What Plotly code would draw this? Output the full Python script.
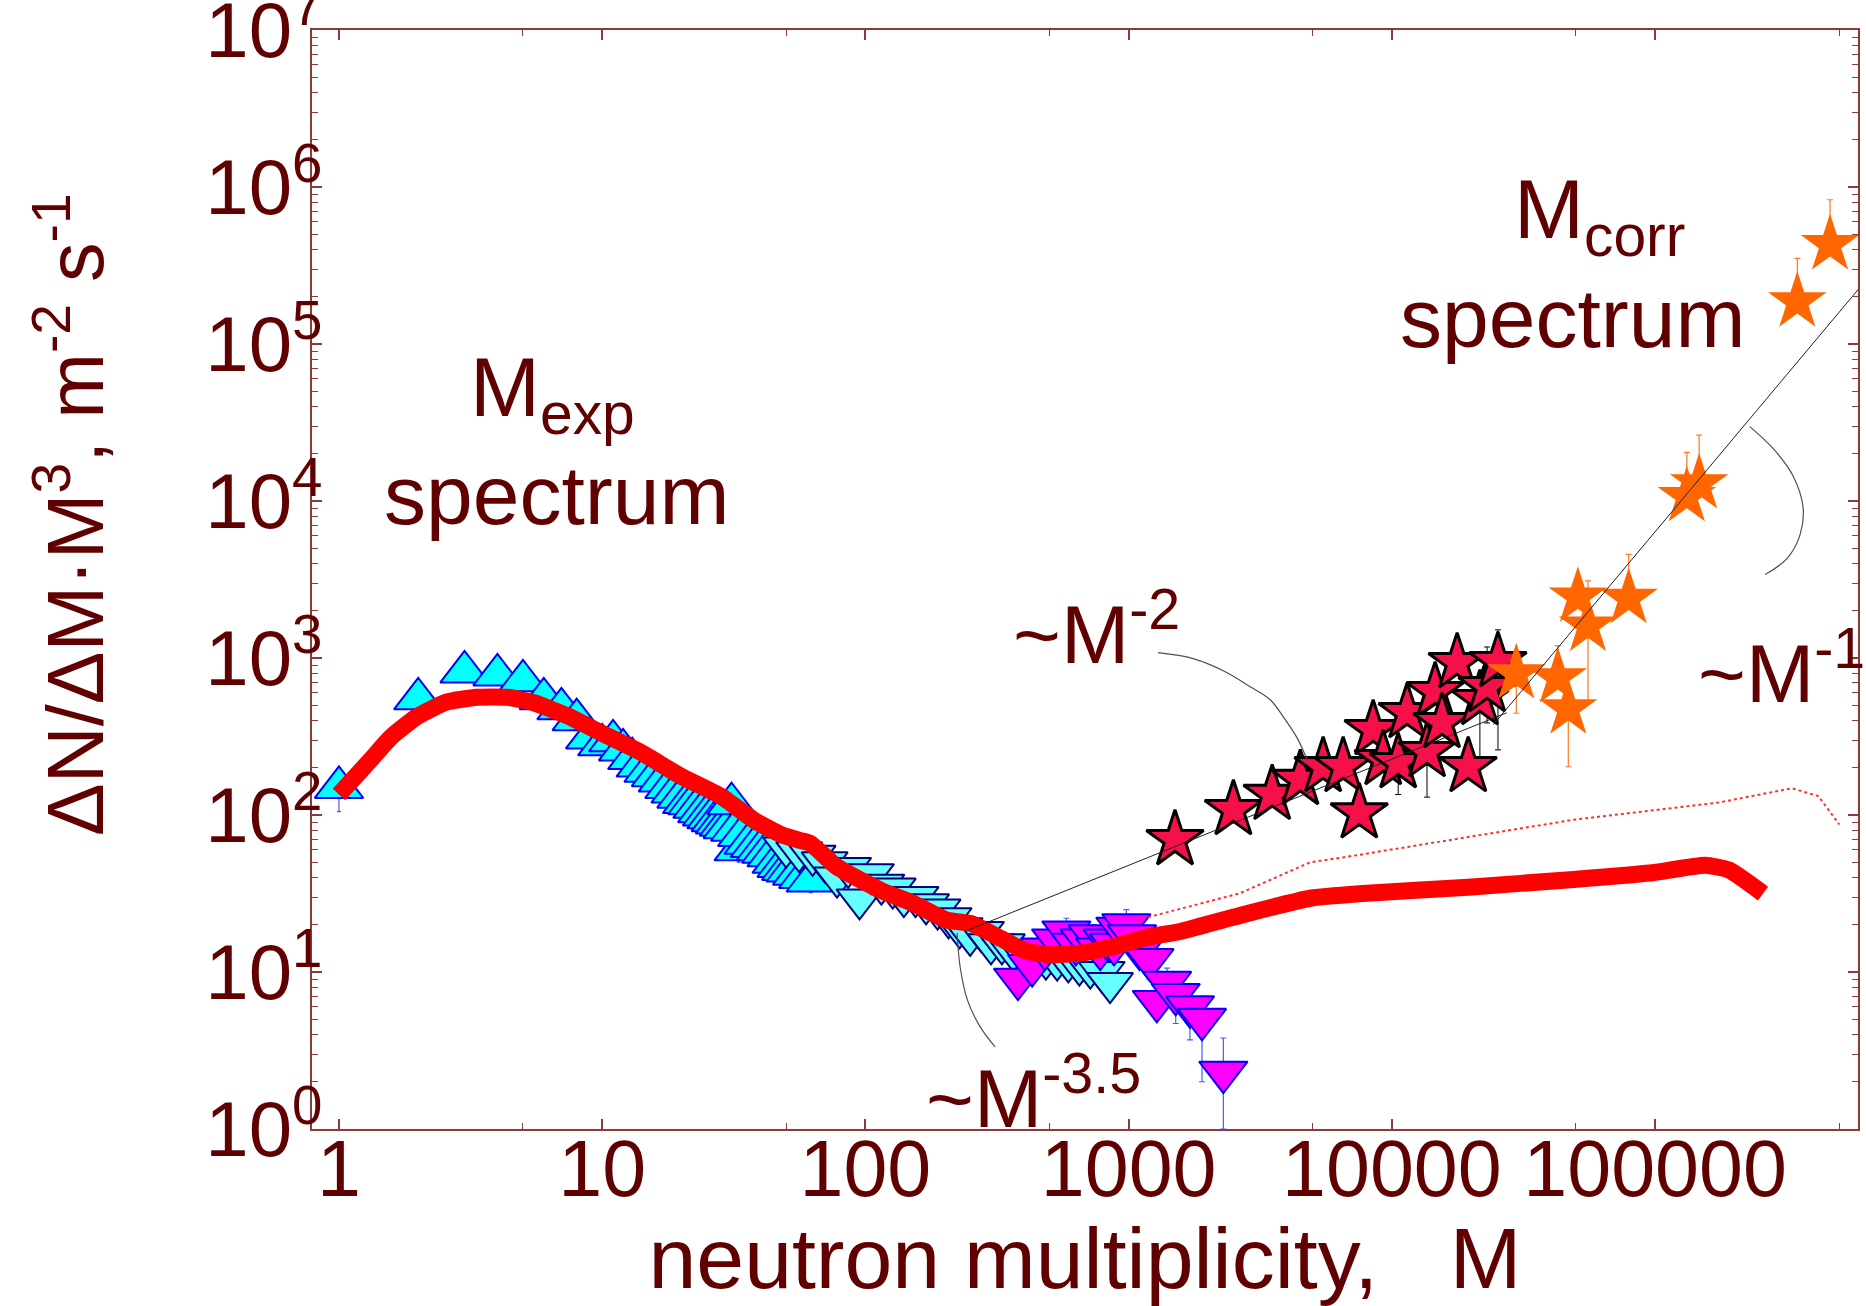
import math
import plotly.graph_objects as go

# ---------------- data ----------------
# M_exp spectrum, up triangles
up_M = [1, 2, 3, 4, 5, 6, 7, 8, 9, 10, 11, 12, 13, 14, 15, 16, 17, 18, 19, 20,
        21, 22, 23, 24, 25, 26, 27, 28, 29, 30, 31, 32, 33, 34, 36, 38, 40, 42,
        44, 46, 48, 50, 52, 55, 58, 62]
up_V = [150, 550, 815, 780, 716, 550, 475, 405, 310, 280, 297, 260, 229, 205, 190,
        178, 165, 150, 140, 130, 120, 118, 112, 105, 100, 96, 92, 89, 86, 83, 118,
        80, 60, 74, 66, 63, 60, 58, 55, 50, 47, 45, 44, 42, 40, 38]
up_err = [45, 30, 30, 30, 25, 20, 20, 18, 15, 14, 14, 12, 12, 10, 10, 10, 9, 9, 8,
          8, 8, 8, 7, 7, 7, 7, 6, 6, 6, 6, 8, 6, 10, 6, 6, 6, 6, 6, 6, 6, 6, 6, 6,
          6, 6, 6]

# M_exp spectrum, down triangles (cyan)
dn_M = [50, 56, 63, 70, 78, 86, 95, 105, 115, 127, 140, 155, 170, 188, 207, 228,
        250, 275, 300, 330, 365, 400, 440, 485, 535, 590, 650, 715, 790, 850]
dn_V = [62, 58, 55, 50, 40, 46, 29, 42, 36, 34, 30, 30, 27, 25, 22, 19, 17, 18,
        15, 15, 13.5, 13, 12.5, 12, 11.8, 11.5, 11, 10.5, 10, 8.5]
dn_err = [9, 8, 8, 7, 6, 7, 6, 6, 5, 5, 4, 4, 4, 4, 3, 3, 3, 3, 2, 2, 2, 2, 2,
          2, 2, 2, 2, 2, 2, 2]

# M_exp spectrum, down triangles (magenta)
mg_M = [380, 430, 480, 530, 580, 630, 680, 730, 780, 830, 880, 930, 980, 1030,
        1100, 1200, 1280, 1400, 1510, 1710, 1900, 2290]
mg_V = [9, 11, 14, 16, 18, 15, 16, 17, 14, 16, 15, 19, 20, 17, 14, 12, 6.5, 8.6,
        7.2, 6.0, 5.0, 2.3]
mg_err_plus = [2, 2, 2, 3, 4, 2, 2, 3, 2, 2, 2, 4, 5, 3, 3, 3, 1.5, 2, 2, 1.6,
               1.5, 1.5]
mg_err_minus = [2, 2, 2, 3, 3, 2, 2, 3, 2, 2, 2, 3, 3, 3, 3, 3, 1.5, 2.5, 2.5,
                2.3, 3.0, 1.3]

# M_corr spectrum, crimson stars
cr_M = [1500, 2500, 3510, 4490, 5480, 6530, 7520, 8490, 9270, 10570, 11430, 13600,
        14600, 15500, 17700, 19500, 21600, 23000, 25300]
cr_V = [69.5, 108, 135, 168, 203, 203, 103, 349, 225, 215, 448, 253, 610, 387,
        933, 203, 542, 656, 947]
cr_err_plus = [8, 12, 15, 18, 20, 20, 12, 40, 25, 25, 60, 30, 70, 45, 150, 25,
               100, 520, 565]
cr_err_minus = [12, 18, 22, 28, 30, 30, 18, 50, 35, 80, 60, 123, 90, 60, 150, 30,
                340, 270, 687]

# M_corr spectrum, orange stars
or_M = [29700, 42700, 46800, 50900, 55600, 79400, 132000, 147000, 347000, 462000]
or_V = [795, 750, 475, 2450, 1600, 2400, 10700, 12900, 186000, 430000]
or_err_plus = [80, 450, 60, 650, 1500, 2170, 9700, 13400, 165000, 400000]
or_err_minus = [350, 100, 272, 300, 1070, 300, 1500, 2000, 20000, 50000]

# thick red curve
red_M = [1, 1.318, 1.585, 1.995, 2.57, 3.35, 4.37, 5.5, 7.41, 10, 14, 20, 28.2,
         37.6, 47.9, 56.2, 61.7, 77.6, 115, 151, 204, 251, 309, 398, 490, 653,
         871, 1175, 1585, 2512, 4900, 7760, 19500, 49000, 95500, 155000, 190500,
         257000]
red_V = [135, 224, 316, 427, 525, 562, 562, 519, 427, 331, 251, 176, 132, 93, 75,
         69, 66, 47, 33, 27.5, 21.4, 20.4, 17.2, 13.8, 12.9, 13.2, 14.5, 16.6, 18.2,
         22.4, 29.5, 31.6, 34.7, 38.9, 42.7, 47.9, 44.7, 31.6]

# thin dotted red curve
dot_M = [1072, 2630, 4900, 6530, 19500, 49000, 174000, 331000, 417000, 501000]
dot_V = [21.4, 31.6, 50, 53.7, 72.4, 93.3, 120, 148, 132, 87]

# power-law guide lines
fit1_M = [240, 27300]
fit1_V = [18.2, 448]
fit2_M = [24300, 620000]
fit2_V = [376, 245000]

# curved connectors of the power-law labels
arc2_M = [1294, 1758, 2328, 2897, 3451, 3864, 4365, 4764]
arc2_V = [1081, 991, 818, 656, 542, 423, 310, 225]
arc35_M = [223, 229, 244, 273, 311]
arc35_V = [17.7, 10.8, 6.64, 4.47, 3.33]
arc1_M = [229000, 280000, 334000, 365000, 355000, 317000, 262000]
arc1_V = [29800, 21700, 14500, 9080, 6070, 4300, 3400]

# axes
x_tickvals = [1, 10, 100, 1000, 10000, 100000]
x_ticktext = ["1", "10", "100", "1000", "10000", "100000"]
x_minor = [5, 50, 500, 5000, 50000, 500000]
y_tickvals = [1, 10, 100, 1000, 10000, 100000, 1000000, 10000000]
y_ticktext = ["10<sup>%d</sup>" % k for k in range(8)]
y_minor = [k * 10 ** n for n in range(7) for k in range(2, 10)]

# ---------------- figure ----------------
W, H = 1866, 1306
ML, MR, MT, MB = 312, 8, 30, 177
PW, PH = W - ML - MR, H - MT - MB

DARK = "#600000"
AXC = "#8b3a3a"
FONT = "Liberation Sans, Arial, sans-serif"


def px_x(p):
    return (p - ML) / PW


def px_y(p):
    return (MT + PH - p) / PH


fig = go.Figure()

fig.add_trace(go.Scatter(
    x=up_M, y=up_V, mode="markers",
    marker=dict(symbol="triangle-up", size=42, color="#00ffff",
                line=dict(color="#0000ff", width=2)),
    error_y=dict(type="data", array=up_err, color="#3030ff", thickness=1, width=2)))

fig.add_trace(go.Scatter(
    x=dn_M, y=dn_V, mode="markers",
    marker=dict(symbol="triangle-down", size=40, color="#66ffff",
                line=dict(color="#000080", width=2)),
    error_y=dict(type="data", array=dn_err, color="#000080", thickness=1, width=2)))

fig.add_trace(go.Scatter(
    x=mg_M, y=mg_V, mode="markers",
    marker=dict(symbol="triangle-down", size=42, color="#ff00ff",
                line=dict(color="#0000ff", width=2)),
    error_y=dict(type="data", array=mg_err_plus, arrayminus=mg_err_minus,
                 color="#4060ff", thickness=1.2, width=3)))

fig.add_trace(go.Scatter(
    x=cr_M, y=cr_V, mode="markers",
    marker=dict(symbol="star", size=43, color="#f5104a",
                line=dict(color="#000000", width=3)),
    error_y=dict(type="data", array=cr_err_plus, arrayminus=cr_err_minus,
                 color="#000000", thickness=1, width=3)))

fig.add_trace(go.Scatter(
    x=or_M, y=or_V, mode="markers",
    marker=dict(symbol="star", size=44, color="#ff6600",
                line=dict(color="#ff6600", width=0)),
    error_y=dict(type="data", array=or_err_plus, arrayminus=or_err_minus,
                 color="#ff7722", thickness=1.2, width=3)))

fig.add_trace(go.Scatter(
    x=red_M, y=red_V, mode="lines",
    line=dict(color="#ff0000", width=17, shape="spline", smoothing=0.5)))

fig.add_trace(go.Scatter(
    x=dot_M, y=dot_V, mode="lines",
    line=dict(color="#ff3030", width=2, dash="dot")))

for fx, fy in ((fit1_M, fit1_V), (fit2_M, fit2_V)):
    fig.add_trace(go.Scatter(x=fx, y=fy, mode="lines",
                             line=dict(color="#202020", width=1)))

for ax_, ay_ in ((arc2_M, arc2_V), (arc35_M, arc35_V), (arc1_M, arc1_V)):
    fig.add_trace(go.Scatter(x=ax_, y=ay_, mode="lines",
                             line=dict(color="#505050", width=1.2,
                                       shape="spline", smoothing=1.0)))

ann_font = dict(family=FONT, size=84, color=DARK)
lab_font = dict(family=FONT, size=82, color=DARK)
annotations = [
    dict(text="M<sub>exp</sub>", x=px_x(470), y=px_y(340), xanchor="left",
         yanchor="top", font=ann_font),
    dict(text="spectrum", x=px_x(556), y=px_y(542), xanchor="center",
         yanchor="bottom", font=ann_font),
    dict(text="M<sub>corr</sub>", x=px_x(1514), y=px_y(162), xanchor="left",
         yanchor="top", font=ann_font),
    dict(text="spectrum", x=px_x(1572), y=px_y(365), xanchor="center",
         yanchor="bottom", font=ann_font),
    dict(text="~M<sup>-2</sup>", x=px_x(1013), y=px_y(680), xanchor="left",
         yanchor="bottom", font=lab_font),
    dict(text="~M<sup>-3.5</sup>", x=px_x(926), y=px_y(1144), xanchor="left",
         yanchor="bottom", font=lab_font),
    dict(text="~M<sup>-1</sup>", x=px_x(1698), y=px_y(719), xanchor="left",
         yanchor="bottom", font=lab_font),
    dict(text="ΔN/ΔM·M<sup>3</sup>, m<sup>-2</sup> s<sup>-1</sup>",
         x=px_x(70), y=px_y(515), xanchor="center", yanchor="middle",
         textangle=-90, font=dict(family=FONT, size=79, color=DARK)),
]
for a in annotations:
    a.update(xref="paper", yref="paper", showarrow=False, borderpad=0,
             borderwidth=0)

fig.update_layout(
    width=W, height=H,
    margin=dict(l=ML, r=MR, t=MT, b=MB, autoexpand=False),
    paper_bgcolor="white", plot_bgcolor="white",
    showlegend=False,
    annotations=annotations,
    xaxis=dict(
        type="log",
        range=[math.log10(0.79), math.log10(590000)],
        tickmode="array", tickvals=x_tickvals, ticktext=x_ticktext,
        ticks="inside", ticklen=10, tickwidth=1.5, tickcolor=AXC,
        showline=True, linecolor=AXC, linewidth=2, mirror="ticks",
        showgrid=False, zeroline=False,
        tickfont=dict(family=FONT, size=79, color=DARK),
        ticklabelstandoff=-30, ticklabeloverflow="allow",
        minor=dict(tickmode="array", tickvals=x_minor, ticks="inside",
                   ticklen=6, tickwidth=1, tickcolor=AXC, showgrid=False),
        title=dict(text="neutron multiplicity,&nbsp;&nbsp;&nbsp;M",
                   font=dict(family=FONT, size=86, color=DARK), standoff=16),
        automargin=False,
    ),
    yaxis=dict(
        type="log",
        range=[0, 7.0005],
        tickmode="array", tickvals=y_tickvals, ticktext=y_ticktext,
        ticks="inside", ticklen=10, tickwidth=1.5, tickcolor=AXC,
        showline=True, linecolor=AXC, linewidth=2, mirror="ticks",
        showgrid=False, zeroline=False,
        tickfont=dict(family=FONT, size=78, color=DARK),
        ticklabelstandoff=-28, ticklabeloverflow="allow",
        minor=dict(tickmode="array", tickvals=y_minor, ticks="inside",
                   ticklen=6, tickwidth=1, tickcolor=AXC, showgrid=False),
        automargin=False,
    ),
)

fig.write_html("out.html", config={"displayModeBar": False})
